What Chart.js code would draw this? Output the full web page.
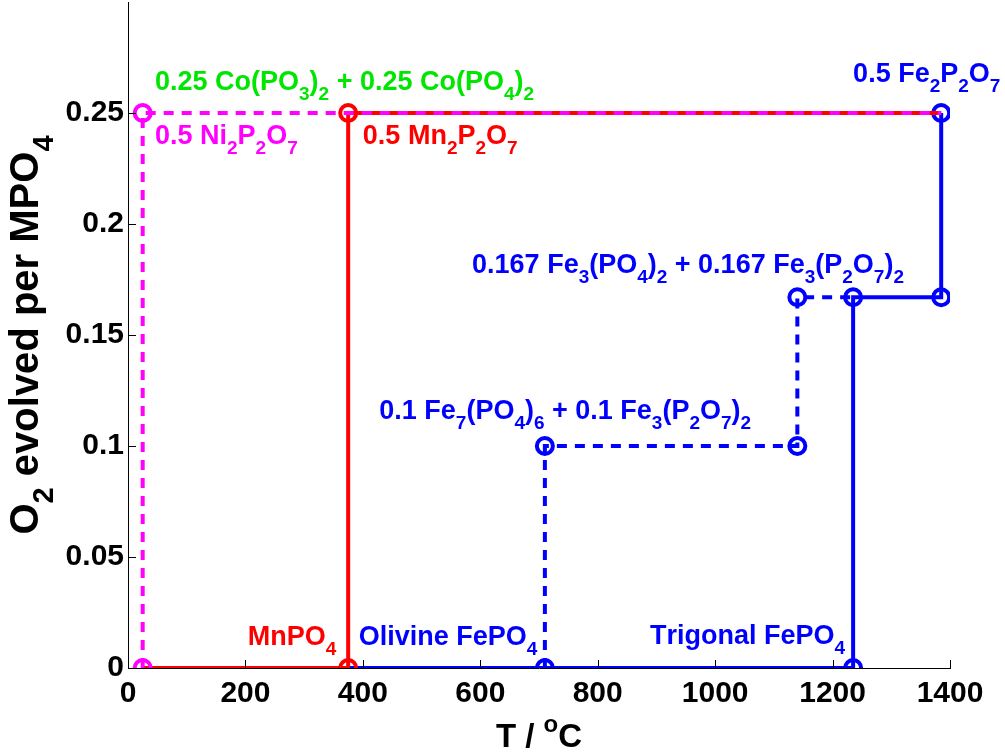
<!DOCTYPE html>
<html>
<head>
<meta charset="utf-8">
<script src="https://cdn.jsdelivr.net/npm/chart.js@4/dist/chart.umd.min.js"></script>
<style>
  html, body { margin: 0; padding: 0; background: #fff; }
  #wrap { width: 1005px; height: 752px; }
</style>
</head>
<body>
<div id="wrap"><canvas id="myChart" width="1005" height="752"></canvas></div>
<script>
// data (T in °C, O2 per MPO4)
const redX = [25, 375, 375, 1385];
const redY = [0, 0, 0.25, 0.25];
const redMarks = [0, 1, 1, 0];

const niX = [25, 25, 1385];
const niY = [0, 0.25, 0.25];
const niMarks = [1, 1, 0];

const feSolidX = [375, 1235, 1235, 1385, 1385];
const feSolidY = [0, 0, 0.167, 0.167, 0.25];
const feSolidMarks = [0, 1, 1, 1, 1];

const feDashX = [710, 710, 1140, 1140, 1235];
const feDashY = [0, 0.1, 0.1, 0.167, 0.167];
const feDashMarks = [1, 1, 1, 1, 0];

const yTickLabels = ['0', '0.05', '0.1', '0.15', '0.2', '0.25'];

// labels: _x = subscript, ^x = superscript
const labelText = [
  '0.25 Co(PO_3)_2 + 0.25 Co(PO_4)_2',
  '0.5 Ni_2P_2O_7',
  '0.5 Mn_2P_2O_7',
  '0.5 Fe_2P_2O_7',
  '0.167 Fe_3(PO_4)_2 + 0.167 Fe_3(P_2O_7)_2',
  '0.1 Fe_7(PO_4)_6 + 0.1 Fe_3(P_2O_7)_2',
  'MnPO_4',
  'Olivine FePO_4',
  'Trigonal FePO_4'
];
const labelX = [46, 46, 400, 1235, 586, 428, 204, 393, 889];
const labelY = [0.2604, 0.2360, 0.2360, 0.2640, 0.1780, 0.1122, 0.0104, 0.0104, 0.0108];
const labelColor = ['#00e600', '#ff00ff', '#ff0000', '#0000ff', '#0000ff', '#0000ff', '#ff0000', '#0000ff', '#0000ff'];

const FONT = '"Liberation Sans", Arial, Helvetica, sans-serif';

function pts(xs, ys) {
  return xs.map((x, i) => ({ x: x, y: ys[i] }));
}

function lineSet(xs, ys, marks, color, dashed, order) {
  return {
    data: pts(xs, ys),
    showLine: true,
    borderColor: color,
    borderWidth: 4,
    borderDash: dashed ? [10, 8] : [],
    pointRadius: marks.map(m => m ? 8 : 0),
    pointHoverRadius: marks.map(m => m ? 8 : 0),
    pointBorderWidth: 4,
    pointBorderColor: color,
    pointBackgroundColor: 'rgba(0,0,0,0)',
    order: order
  };
}

// draws text with one-char sub/superscripts
function richText(ctx, str, x, y, size) {
  let cx = x;
  const big = 'bold ' + size + 'px ' + FONT;
  const small = 'bold ' + Math.round(size * 0.72) + 'px ' + FONT;
  for (let i = 0; i < str.length; i++) {
    let ch = str[i];
    let dy = 0;
    if ((ch === '_' || ch === '^') && i + 1 < str.length) {
      dy = ch === '_' ? size * 0.38 : -size * 0.45;
      ch = str[++i];
      ctx.font = small;
    } else {
      ctx.font = big;
    }
    ctx.fillText(ch, cx, y + dy);
    cx += ctx.measureText(ch).width;
  }
  return cx - x;
}

function richWidth(ctx, str, size) {
  ctx.save();
  ctx.globalAlpha = 0;
  const w = richText(ctx, str, 0, 0, size);
  ctx.restore();
  return w;
}

const extras = {
  id: 'extras',
  afterDatasetsDraw(chart) {
    const ctx = chart.ctx;
    const xs = chart.scales.x, ys = chart.scales.y;
    const area = chart.chartArea;
    ctx.save();
    // inward ticks
    ctx.strokeStyle = '#000';
    ctx.lineWidth = 1;
    xs.ticks.forEach(t => {
      const px = Math.round(xs.getPixelForValue(t.value)) + 0.5;
      ctx.beginPath();
      ctx.moveTo(px, area.bottom);
      ctx.lineTo(px, area.bottom - 8);
      ctx.stroke();
    });
    ys.ticks.forEach(t => {
      if (t.value > 0.26) return;
      const py = Math.round(ys.getPixelForValue(t.value)) + 0.5;
      ctx.beginPath();
      ctx.moveTo(area.left, py);
      ctx.lineTo(area.left + 8, py);
      ctx.stroke();
    });
    // annotations
    ctx.textBaseline = 'alphabetic';
    ctx.textAlign = 'left';
    labelText.forEach((s, i) => {
      ctx.fillStyle = labelColor[i];
      richText(ctx, s, xs.getPixelForValue(labelX[i]), ys.getPixelForValue(labelY[i]), 27);
    });
    // axis titles
    ctx.fillStyle = '#000';
    const xt = 'T / ^oC';
    const xw = richWidth(ctx, xt, 33);
    richText(ctx, xt, (area.left + area.right) / 2 - xw / 2, 747, 33);
    const yt = 'O_2 evolved per MPO_4';
    const yw = richWidth(ctx, yt, 40);
    ctx.translate(38, (area.top + area.bottom) / 2);
    ctx.rotate(-Math.PI / 2);
    richText(ctx, yt, -yw / 2, 0, 40);
    ctx.restore();
  }
};

const ctx = document.getElementById('myChart').getContext('2d');
new Chart(ctx, {
  type: 'scatter',
  data: {
    datasets: [
      lineSet(niX, niY, niMarks, '#ff00ff', true, 0),
      lineSet(redX, redY, redMarks, '#ff0000', false, 1),
      lineSet(feDashX, feDashY, feDashMarks, '#0000ff', true, 2),
      lineSet(feSolidX, feSolidY, feSolidMarks, '#0000ff', false, 3)
    ]
  },
  options: {
    responsive: false,
    animation: false,
    layout: { autoPadding: false, padding: { left: 0, right: 55, top: 2, bottom: 0 } },
    plugins: { legend: { display: false }, tooltip: { enabled: false } },
    scales: {
      x: {
        type: 'linear',
        min: 0, max: 1400,
        afterFit: s => { s.height = 84; },
        grid: { drawOnChartArea: false, drawTicks: false },
        border: { display: true, color: '#000', width: 1 },
        ticks: {
          stepSize: 200,
          padding: 8,
          color: '#000',
          font: { family: FONT, size: 30, weight: 'bold' },
          maxRotation: 0,
          callback: v => String(v)
        }
      },
      y: {
        type: 'linear',
        min: 0, max: 0.3,
        afterFit: s => { s.width = 128; s.paddingTop = 0; s.paddingBottom = 0; },
        grid: { drawOnChartArea: false, drawTicks: false },
        border: { display: true, color: '#000', width: 1 },
        ticks: {
          stepSize: 0.05,
          padding: 4,
          color: '#000',
          font: c => ({ family: FONT, size: c.index > 5 ? 1 : 30, weight: 'bold' }),
          callback: (v, i) => yTickLabels[i] ?? null
        }
      }
    }
  },
  plugins: [extras]
});
</script>
</body>
</html>
